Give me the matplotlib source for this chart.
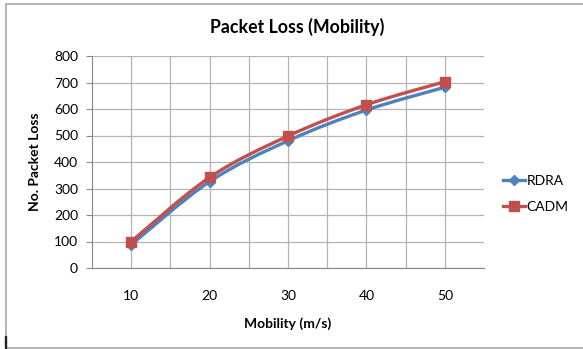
import matplotlib

matplotlib.use("Agg")

import matplotlib.pyplot as plt
import numpy as np
from matplotlib.lines import Line2D
from matplotlib.patches import PathPatch, Rectangle
from matplotlib.path import Path

plt.rcParams["font.family"] = ["Lato", "DejaVu Sans"]

MOBILITY = [10, 20, 30, 40, 50]
RDRA = [88, 326, 480, 596, 682]
CADM = [100, 342, 498, 616, 703]

BLUE = "#4F81BD"
RED = "#C0504D"
GRID = "#b4b4b4"


def smooth_path(x, y, t=1 / 6):
    """Bezier path through the points, like a spreadsheet 'smoothed line'."""
    x = np.asarray(x, float)
    y = np.asarray(y, float)
    verts = [(x[0], y[0])]
    codes = [Path.MOVETO]
    n = len(x)
    for i in range(n - 1):
        p0 = i - 1 if i > 0 else i
        p3 = i + 2 if i + 2 < n else i + 1
        c1 = (x[i] + (x[i + 1] - x[p0]) * t, y[i] + (y[i + 1] - y[p0]) * t)
        c2 = (x[i + 1] - (x[p3] - x[i]) * t, y[i + 1] - (y[p3] - y[i]) * t)
        verts += [c1, c2, (x[i + 1], y[i + 1])]
        codes += [Path.CURVE4] * 3
    return Path(verts, codes)


fig = plt.figure(figsize=(5.83, 3.49), dpi=100)
W, H = 583, 349
ax = fig.add_axes([92 / W, 1 - 268 / H, (484 - 92) / W, (268 - 56) / H])

for vals, col, mk, ms in ((RDRA, BLUE, "D", 5), (CADM, RED, "s", 6.5)):
    ax.add_patch(PathPatch(smooth_path(MOBILITY, vals), fill=False,
                           edgecolor=col, lw=2.4, zorder=3))
    ax.plot(MOBILITY, vals, ls="none", marker=mk, ms=ms, color=col, zorder=4)

ax.set_xlim(5, 55)
ax.set_ylim(0, 800)
ax.set_xticks(MOBILITY)
ax.set_xticks([15, 25, 35, 45], minor=True)
ax.set_yticks(range(0, 801, 100))
ax.grid(True, which="both", color=GRID, lw=0.9)
ax.set_axisbelow(True)
ax.tick_params(axis="x", which="both", length=0, pad=16, labelsize=10)
ax.tick_params(axis="y", length=4, color="#888888", pad=6, labelsize=10)
for side in ("top", "right"):
    ax.spines[side].set_visible(False)
ax.spines["left"].set_color("#888888")
ax.spines["bottom"].set_color("#888888")

ax.set_xlabel("Mobility (m/s)", fontsize=10, fontweight="bold", labelpad=11)
ax.set_ylabel("No. Packet Loss", fontsize=10, fontweight="bold", labelpad=9)
fig.text(297 / W, 1 - 27 / H, "Packet Loss (Mobility)", ha="center",
         va="center", fontsize=12.8, fontweight="bold")

handles = [
    Line2D([], [], color=BLUE, lw=2.4, marker="D", ms=5),
    Line2D([], [], color=RED, lw=2.4, marker="s", ms=6.5),
]
fig.legend(handles, ["RDRA", "CADM"], loc="center left",
           bbox_to_anchor=(490 / W, 1 - 194 / H), frameon=False,
           fontsize=10, handlelength=1.6, handletextpad=0.15,
           labelspacing=1.05)

# chart frame
fig.patches.append(Rectangle((6 / W, 1 - 348 / H), 1, (348 - 4) / H,
                             transform=fig.transFigure, fill=False,
                             edgecolor="#a8a8a8", lw=1.2))
fig.patches.append(Rectangle((4.5 / W, 1 - 348 / H), 1.5 / W, 12 / H,
                             transform=fig.transFigure, color="#222222"))

fig.savefig("out.png", dpi=100)
